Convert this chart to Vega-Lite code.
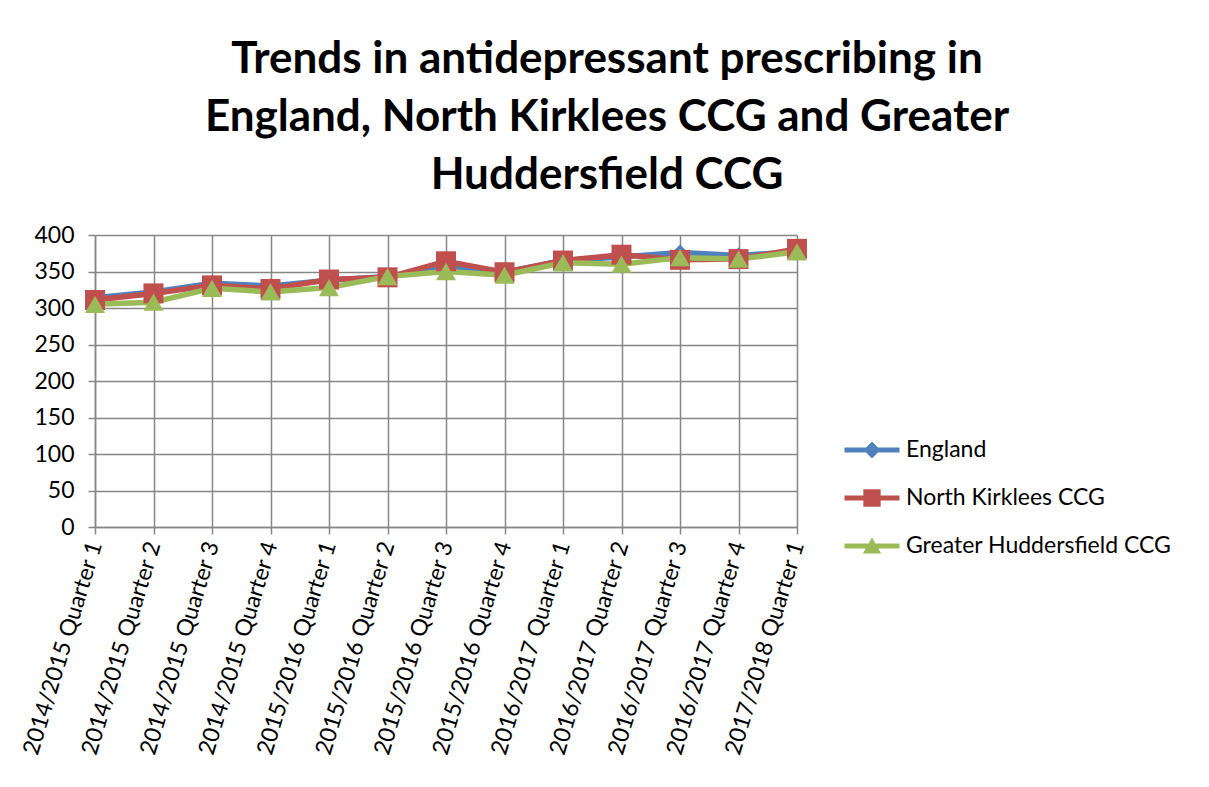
{
  "$schema": "https://vega.github.io/schema/vega-lite/v6.json",
  "width": 702,
  "height": 292,
  "autosize": "none",
  "padding": {"left": 95, "top": 235, "right": 412, "bottom": 260},
  "background": "white",
  "title": {
    "text": ["Trends in antidepressant prescribing in", "England, North Kirklees CCG and Greater", "Huddersfield CCG"],
    "font": "Lato",
    "fontSize": 44,
    "fontWeight": "bold",
    "color": "#000000",
    "anchor": "middle",
    "dx": 161,
    "lineHeight": 58,
    "offset": 26
  },
  "config": {
    "view": {"stroke": null},
    "font": "Lato",
    "axis": {
      "labelFont": "Lato",
      "labelFontSize": 23,
      "labelColor": "#000000",
      "labelLimit": 0,
      "domainColor": "#868686",
      "domainWidth": 1.5,
      "tickColor": "#868686",
      "tickWidth": 1.5,
      "tickSize": 7,
      "gridColor": "#868686",
      "gridWidth": 1.5,
      "gridOpacity": 1
    },
    "legend": {"labelFont": "Lato", "labelFontSize": 23, "labelColor": "#000000", "labelLimit": 0}
  },
  "data": {
    "values": [
      {"q": "2014/2015 Quarter 1", "s": "England", "v": 314},
      {"q": "2014/2015 Quarter 2", "s": "England", "v": 322},
      {"q": "2014/2015 Quarter 3", "s": "England", "v": 334},
      {"q": "2014/2015 Quarter 4", "s": "England", "v": 330},
      {"q": "2015/2016 Quarter 1", "s": "England", "v": 338},
      {"q": "2015/2016 Quarter 2", "s": "England", "v": 343},
      {"q": "2015/2016 Quarter 3", "s": "England", "v": 355},
      {"q": "2015/2016 Quarter 4", "s": "England", "v": 349},
      {"q": "2016/2017 Quarter 1", "s": "England", "v": 365},
      {"q": "2016/2017 Quarter 2", "s": "England", "v": 370},
      {"q": "2016/2017 Quarter 3", "s": "England", "v": 376},
      {"q": "2016/2017 Quarter 4", "s": "England", "v": 372},
      {"q": "2017/2018 Quarter 1", "s": "England", "v": 377},
      {"q": "2014/2015 Quarter 1", "s": "North Kirklees CCG", "v": 311},
      {"q": "2014/2015 Quarter 2", "s": "North Kirklees CCG", "v": 320},
      {"q": "2014/2015 Quarter 3", "s": "North Kirklees CCG", "v": 331},
      {"q": "2014/2015 Quarter 4", "s": "North Kirklees CCG", "v": 326},
      {"q": "2015/2016 Quarter 1", "s": "North Kirklees CCG", "v": 339},
      {"q": "2015/2016 Quarter 2", "s": "North Kirklees CCG", "v": 342},
      {"q": "2015/2016 Quarter 3", "s": "North Kirklees CCG", "v": 364},
      {"q": "2015/2016 Quarter 4", "s": "North Kirklees CCG", "v": 349},
      {"q": "2016/2017 Quarter 1", "s": "North Kirklees CCG", "v": 365},
      {"q": "2016/2017 Quarter 2", "s": "North Kirklees CCG", "v": 373},
      {"q": "2016/2017 Quarter 3", "s": "North Kirklees CCG", "v": 366},
      {"q": "2016/2017 Quarter 4", "s": "North Kirklees CCG", "v": 367},
      {"q": "2017/2018 Quarter 1", "s": "North Kirklees CCG", "v": 381},
      {"q": "2014/2015 Quarter 1", "s": "Greater Huddersfield CCG", "v": 305},
      {"q": "2014/2015 Quarter 2", "s": "Greater Huddersfield CCG", "v": 308},
      {"q": "2014/2015 Quarter 3", "s": "Greater Huddersfield CCG", "v": 327},
      {"q": "2014/2015 Quarter 4", "s": "Greater Huddersfield CCG", "v": 322},
      {"q": "2015/2016 Quarter 1", "s": "Greater Huddersfield CCG", "v": 328},
      {"q": "2015/2016 Quarter 2", "s": "Greater Huddersfield CCG", "v": 343},
      {"q": "2015/2016 Quarter 3", "s": "Greater Huddersfield CCG", "v": 350},
      {"q": "2015/2016 Quarter 4", "s": "Greater Huddersfield CCG", "v": 345},
      {"q": "2016/2017 Quarter 1", "s": "Greater Huddersfield CCG", "v": 362},
      {"q": "2016/2017 Quarter 2", "s": "Greater Huddersfield CCG", "v": 360},
      {"q": "2016/2017 Quarter 3", "s": "Greater Huddersfield CCG", "v": 369},
      {"q": "2016/2017 Quarter 4", "s": "Greater Huddersfield CCG", "v": 367},
      {"q": "2017/2018 Quarter 1", "s": "Greater Huddersfield CCG", "v": 377}
    ]
  },
  "encoding": {
    "x": {
      "field": "q",
      "type": "ordinal",
      "sort": null,
      "scale": {"type": "point", "padding": 0},
      "axis": {
        "title": null,
        "labelAngle": -73,
        "labelAlign": "right",
        "labelBaseline": "middle",
        "labelPadding": 8,
        "grid": true
      }
    },
    "y": {
      "field": "v",
      "type": "quantitative",
      "scale": {"domain": [0, 400], "nice": false},
      "axis": {"title": null, "values": [0, 50, 100, 150, 200, 250, 300, 350, 400], "labelPadding": 14, "grid": true}
    },
    "color": {
      "field": "s",
      "type": "nominal",
      "scale": {
        "domain": ["England", "North Kirklees CCG", "Greater Huddersfield CCG"],
        "range": ["#4F81BD", "#C0504D", "#9BBB59"]
      },
      "legend": {
        "title": null,
        "orient": "none",
        "legendX": 765,
        "legendY": 203,
        "padding": 0,
        "symbolSize": 576,
        "labelOffset": 22,
        "rowPadding": 24,
        "symbolStrokeWidth": 0,
        "encode": {
          "symbols": {
            "update": {
              "shape": {"signal": "datum.value === 'England' ? 'M-2.29,-0.2H2.29V0.2H-2.29Z M0,-0.7L0.7,0L0,0.7L-0.7,0Z' : datum.value === 'North Kirklees CCG' ? 'M-2.29,-0.2H2.29V0.2H-2.29Z M-0.72,-0.72H0.72V0.72H-0.72Z' : 'M-2.29,-0.2H2.29V0.2H-2.29Z M0,-0.72L0.76,0.62H-0.76Z'"},
              "fill": {"signal": "datum.value === 'England' ? '#4F81BD' : datum.value === 'North Kirklees CCG' ? '#C0504D' : '#9BBB59'"},
              "strokeWidth": {"value": 0},
              "opacity": {"value": 1}
            }
          }
        }
      }
    }
  },
  "layer": [
    {
      "mark": {"type": "line", "strokeWidth": 5.5}
    },
    {
      "transform": [{"filter": "datum.s === 'England'"}],
      "mark": {"type": "point", "filled": true, "opacity": 1, "shape": "diamond", "size": 250}
    },
    {
      "transform": [{"filter": "datum.s === 'North Kirklees CCG'"}],
      "mark": {"type": "point", "filled": true, "opacity": 1, "shape": "square", "size": 400}
    },
    {
      "transform": [{"filter": "datum.s === 'Greater Huddersfield CCG'"}],
      "mark": {"type": "point", "filled": true, "opacity": 1, "shape": "triangle-up", "size": 400}
    }
  ]
}
